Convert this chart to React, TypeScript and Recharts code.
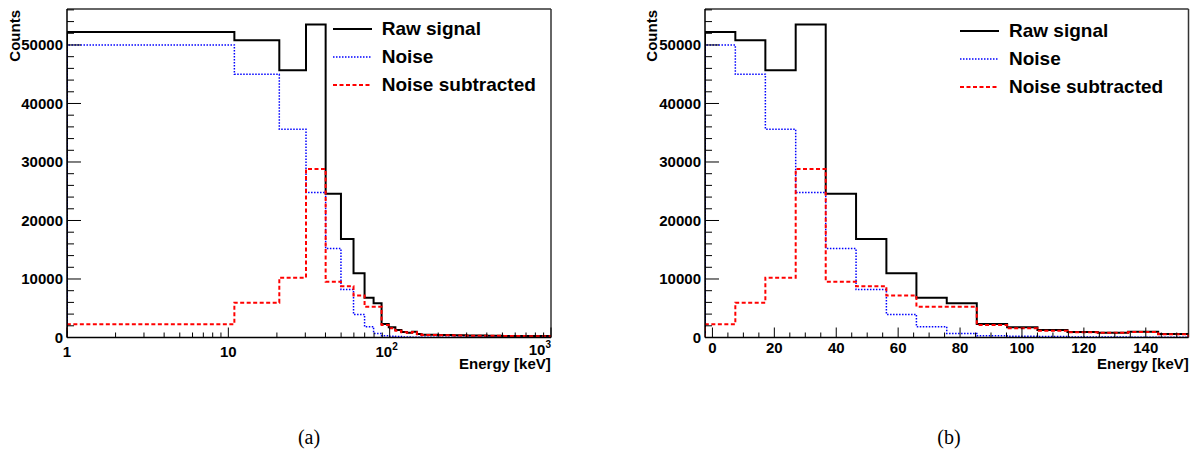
import React from 'react';
import { ComposedChart, Line, XAxis, YAxis, ReferenceLine, Legend } from 'recharts';

// counts per bin (same histograms in both panels)
const rawSignal = [52200, 50800, 45700, 53500, 24550, 16850, 10980, 6800, 5850, 2300, 1740, 1280, 940, 820, 990, 600];
const noise = [50000, 45000, 35600, 24800, 15200, 8200, 3950, 1850, 700, 300, 200, 150, 100, 80, 60, 50];
const noiseSubtracted = [2250, 5950, 10230, 28800, 9540, 8780, 7200, 5250, 5250, 2150, 1570, 1170, 880, 800, 940, 550];

// bin edges [keV] for panel (b), linear axis
const linBinEdges = [-2.4, 7.4, 17.1, 26.9, 36.6, 46.4, 56.2, 65.9, 75.7, 85.4, 95.2, 105.0, 114.7, 124.5, 134.3, 144.0, 153.8];
// bin edges [keV] for panel (a), log axis
const logBinEdges = [1, 10.9, 20.7, 30.3, 40.1, 49.9, 59.7, 69.9, 79.5, 89.1, 98.7, 108.5, 118.2, 128.0, 137.8, 147.5, 157.3];
// panel (a) only: tail above ~157 keV, coarse bins
const tailBinEdges = [157.3, 200, 250, 300, 400, 500, 700, 1000];
const tailRaw = [480, 420, 370, 330, 300, 270, 240];
const tailNoise = [60, 50, 40, 30, 25, 20, 15];
const tailSubtracted = [430, 380, 330, 300, 280, 250, 225];

const yMajorTicks = [0, 10000, 20000, 30000, 40000, 50000];
const linMajorTicks = [0, 20, 40, 60, 80, 100, 120, 140];
const logMajorTicks = [1, 10, 100, 1000];

const Y_MAX = 56150;
const FONT = '"Liberation Sans", Arial, Helvetica, sans-serif';

const SERIES = [
  { key: 'raw', name: 'Raw signal', color: '#000000', width: 2, dash: undefined as string | undefined },
  { key: 'noise', name: 'Noise', color: '#0000ff', width: 1.5, dash: '1.5 1.5' },
  { key: 'sub', name: 'Noise subtracted', color: '#ff0000', width: 2, dash: '4 2.5' },
];

const yTicks: number[] = [];
for (let v = 0; v <= 56000; v += 2000) yTicks.push(v);
const linTicks: number[] = [];
for (let v = 0; v <= 150; v += 5) linTicks.push(v);
const logTicks: number[] = [];
[1, 10, 100].forEach((d) => {
  for (let m = 1; m < 10; m++) logTicks.push(d * m);
});
logTicks.push(1000);

// histogram outline as step points (starts and ends at zero)
function histPoints(edges: number[], values: number[]) {
  const last = edges[edges.length - 1];
  const pts = [{ x: edges[0], y: 0 }];
  values.forEach((v, i) => pts.push({ x: edges[i], y: v }));
  pts.push({ x: last, y: values[values.length - 1] });
  pts.push({ x: last, y: 0 });
  return pts;
}

const linData = {
  raw: histPoints(linBinEdges, rawSignal),
  noise: histPoints(linBinEdges, noise),
  sub: histPoints(linBinEdges, noiseSubtracted),
};
const allLogEdges = [...logBinEdges, ...tailBinEdges.slice(1)];
const logData = {
  raw: histPoints(allLogEdges, [...rawSignal, ...tailRaw]),
  noise: histPoints(allLogEdges, [...noise, ...tailNoise]),
  sub: histPoints(allLogEdges, [...noiseSubtracted, ...tailSubtracted]),
};

const labelStyle = { fontFamily: FONT, fontWeight: 700, fill: '#000' };

const YTick = (props: any) => {
  const { x, y, payload } = props;
  const v = payload.value;
  const major = yMajorTicks.includes(v);
  return (
    <g>
      <line x1={x} y1={y} x2={x + (major ? 14 : 7)} y2={y} stroke="#000" strokeWidth={1} />
      {major && (
        <text x={x - 4} y={y + 5.3} textAnchor="end" fontSize={15} {...labelStyle}>
          {v}
        </text>
      )}
    </g>
  );
};

const LinXTick = (props: any) => {
  const { x, y, payload } = props;
  const v = payload.value;
  const major = linMajorTicks.includes(v);
  return (
    <g>
      <line x1={x} y1={y} x2={x} y2={y - (major ? 10 : 5)} stroke="#000" strokeWidth={1} />
      {major && (
        <text x={x} y={y + 15} textAnchor="middle" fontSize={15} {...labelStyle}>
          {v}
        </text>
      )}
    </g>
  );
};

const LogXTick = (props: any) => {
  const { x, y, payload } = props;
  const v = payload.value;
  const major = logMajorTicks.includes(v);
  let label: React.ReactNode = null;
  if (v === 1 || v === 10) {
    label = (
      <text x={x} y={y + 19.5} textAnchor="middle" fontSize={15} {...labelStyle}>
        {v}
      </text>
    );
  } else if (v === 100 || v === 1000) {
    const exp = v === 100 ? '2' : '3';
    label = (
      <text
        x={v === 1000 ? x : x - 3}
        y={y + (v === 1000 ? 17.5 : 19)}
        textAnchor={v === 1000 ? 'end' : 'middle'}
        fontSize={15}
        {...labelStyle}
      >
        10
        <tspan fontSize={10} dy={-7}>
          {exp}
        </tspan>
      </text>
    );
  }
  return (
    <g>
      <line x1={x} y1={y} x2={x} y2={y - (major ? 10 : 5)} stroke="#000" strokeWidth={1} />
      {label}
    </g>
  );
};

const renderLegend = () => (
  <div style={{ fontFamily: FONT, fontWeight: 700, fontSize: 19, color: '#000', lineHeight: '28px' }}>
    {SERIES.map((s) => (
      <div key={s.key} style={{ display: 'flex', alignItems: 'center', height: 28, whiteSpace: 'nowrap' }}>
        <svg width={39} height={4} style={{ marginRight: 10, flex: 'none' }}>
          <line x1={0} y1={2} x2={39} y2={2} stroke={s.color} strokeWidth={s.width} strokeDasharray={s.dash} />
        </svg>
        <span>{s.name}</span>
      </div>
    ))}
  </div>
);

function Panel({ log }: { log: boolean }) {
  const data = log ? logData : linData;
  const xDomain = log ? [1, 1000] : [linBinEdges[0], linBinEdges[linBinEdges.length - 1]];
  const yAxisWidth = log ? 67 : 65;
  const rightMargin = log ? 9 : 11.5;
  return (
    <ComposedChart width={560} height={400} margin={{ top: 9, right: rightMargin, bottom: 0, left: 0 }}>
      <XAxis
        type="number"
        dataKey="x"
        scale={log ? 'log' : 'linear'}
        domain={xDomain}
        allowDataOverflow
        ticks={log ? logTicks : linTicks}
        interval={0}
        tick={log ? <LogXTick /> : <LinXTick />}
        tickSize={0}
        tickMargin={0}
        tickLine={false}
        axisLine={{ stroke: '#000', strokeWidth: 1.5 }}
        height={62.5}
        label={{
          content: () => (
            <text
              x={yAxisWidth + 483.8}
              y={log ? 368.5 : 369}
              textAnchor="end"
              fontSize={15}
              {...labelStyle}
            >
              Energy [keV]
            </text>
          ),
        }}
      />
      <YAxis
        type="number"
        domain={[0, Y_MAX]}
        allowDataOverflow
        ticks={yTicks}
        interval={0}
        tick={<YTick />}
        tickSize={0}
        tickMargin={0}
        tickLine={false}
        axisLine={{ stroke: '#000', strokeWidth: 1.5 }}
        width={yAxisWidth}
        label={{
          content: () => (
            <text
              transform="rotate(-90)"
              x={-10}
              y={log ? 19.5 : 17}
              textAnchor="end"
              fontSize={15}
              {...labelStyle}
            >
              Counts
            </text>
          ),
        }}
      />
      <ReferenceLine y={Y_MAX} stroke="#333" strokeWidth={1.5} />
      <ReferenceLine x={xDomain[1]} stroke="#333" strokeWidth={1.5} />
      {SERIES.map((s) => (
        <Line
          key={s.key}
          data={(data as any)[s.key]}
          dataKey="y"
          name={s.name}
          type="stepAfter"
          stroke={s.color}
          strokeWidth={s.width}
          strokeDasharray={s.dash}
          dot={false}
          activeDot={false}
          isAnimationActive={false}
        />
      ))}
      <Legend
        layout="vertical"
        align="center"
        verticalAlign="middle"
        content={renderLegend}
        wrapperStyle={{ left: log ? 332.7 : 320, top: log ? 15 : 16.7, width: 230, height: 84 }}
      />
    </ComposedChart>
  );
}

const captionStyle: React.CSSProperties = {
  position: 'absolute',
  top: 427,
  fontFamily: '"Liberation Serif", "Times New Roman", serif',
  fontSize: 20,
  lineHeight: '20px',
  transform: 'translateX(-50%)',
  color: '#000',
};

export default function App() {
  return (
    <div style={{ position: 'absolute', left: 0, top: 0, width: 1201, height: 452, background: '#fff', overflow: 'hidden' }}>
      <div style={{ position: 'absolute', left: 0, top: 0 }}>
        <Panel log />
      </div>
      <div style={{ position: 'absolute', left: 640, top: 0 }}>
        <Panel log={false} />
      </div>
      <div style={{ ...captionStyle, left: 309 }}>(a)</div>
      <div style={{ ...captionStyle, left: 949 }}>(b)</div>
    </div>
  );
}
